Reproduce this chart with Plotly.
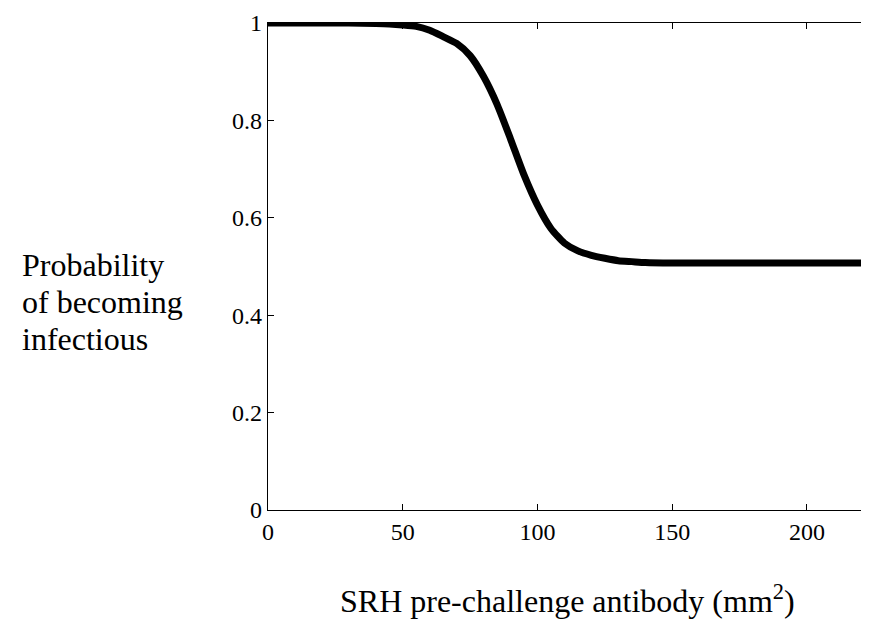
import plotly.graph_objects as go

# Curve
antibody = [0, 10, 20, 30, 40, 45, 50, 55, 60, 65, 70, 75, 80, 85, 90, 95,
            100, 105, 110, 115, 120, 125, 130, 135, 140, 150, 175, 200, 226]
prob = [1.0, 1.0, 1.0, 1.0, 0.999, 0.998, 0.996, 0.993, 0.985, 0.972, 0.958,
        0.933, 0.89, 0.833, 0.762, 0.688, 0.626, 0.578, 0.548, 0.532, 0.523,
        0.517, 0.512, 0.51, 0.508, 0.507, 0.507, 0.507, 0.507]

x_ticks = [0, 50, 100, 150, 200]
y_ticks = [0, 0.2, 0.4, 0.6, 0.8, 1]
y_tick_text = ["0", "0.2", "0.4", "0.6", "0.8", "1"]

FONT = "Liberation Serif"
W, H = 869, 622
L, R, T, B = 260, 0, 15, 120
X_MAX = 226

fig = go.Figure()
fig.add_trace(go.Scatter(x=antibody, y=prob, mode="lines",
                         line=dict(color="black", width=7, shape="spline", smoothing=0.6),
                         showlegend=False, hoverinfo="skip"))
# invisible trace to anchor the top axis
fig.add_trace(go.Scatter(x=[0], y=[0], xaxis="x2", mode="markers",
                         marker=dict(opacity=0), showlegend=False, hoverinfo="skip"))

axis_common = dict(showgrid=False, zeroline=False, showline=True, linecolor="black",
                   linewidth=1.2, ticks="inside", ticklen=6, tickwidth=1, tickcolor="black",
                   tickfont=dict(family=FONT, size=24, color="black"))

fig.update_layout(
    width=W, height=H,
    margin=dict(l=L, r=R, t=T, b=B, pad=0),
    paper_bgcolor="white", plot_bgcolor="white",
    xaxis=dict(range=[0, X_MAX], tickvals=x_ticks, **axis_common),
    xaxis2=dict(range=[0, X_MAX], tickvals=x_ticks, overlaying="x", side="top",
                showticklabels=False, **{k: v for k, v in axis_common.items() if k != "tickfont"}),
    yaxis=dict(range=[0, 1], tickvals=y_ticks, ticktext=y_tick_text, **axis_common),
)

plot_h = H - T - B
plot_w = W - L - R

def py(pixel_y):
    return (H - B - pixel_y) / plot_h

def px(pixel_x):
    return (pixel_x - L) / plot_w

for txt, base in [("Probability", 267), ("of becoming", 304), ("infectious", 341)]:
    fig.add_annotation(text=txt, xref="paper", yref="paper", x=px(12), y=py(base - 10),
                       xanchor="left", yanchor="middle", showarrow=False, align="left",
                       font=dict(family=FONT, size=32, color="black"))

fig.add_annotation(text="SRH pre-challenge antibody (mm<sup>2</sup>)", xref="paper", yref="paper",
                   x=px(559), y=py(613), xanchor="center", yanchor="bottom", showarrow=False,
                   font=dict(family=FONT, size=32, color="black"))

fig.write_html("out.html")
